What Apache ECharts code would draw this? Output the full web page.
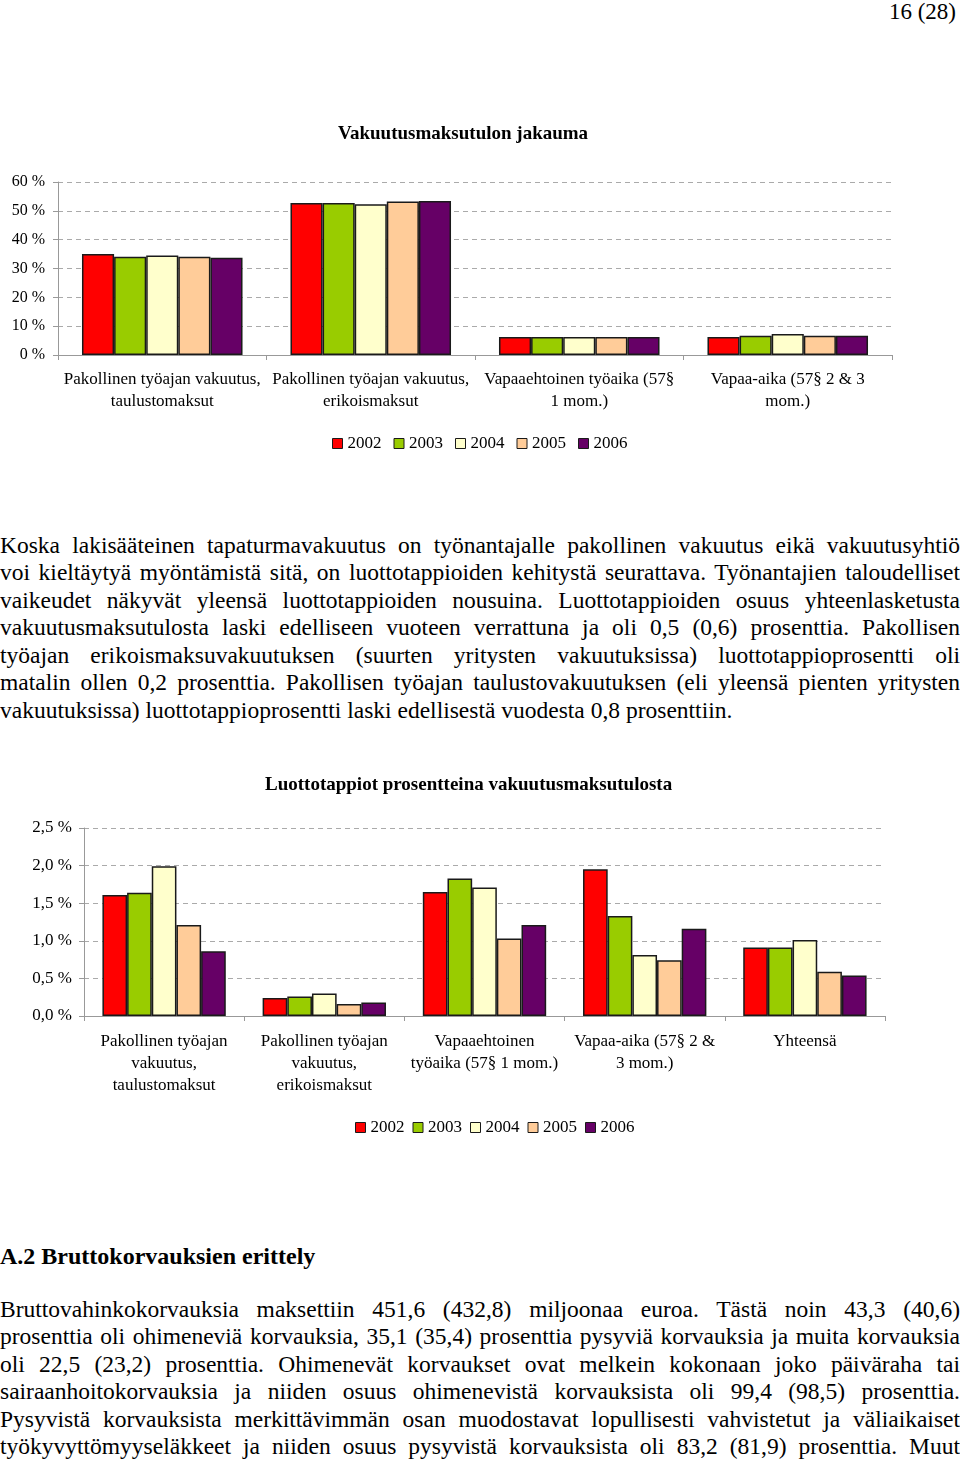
<!DOCTYPE html>
<html>
<head>
<meta charset="utf-8">
<script src="https://cdn.jsdelivr.net/npm/echarts@6/dist/echarts.min.js"></script>
<style>
  html, body { margin: 0; padding: 0; background: #fff; }
  body { width: 960px; height: 1461px; position: relative; overflow: hidden; font-family: 'Liberation Serif', 'Times New Roman', serif; color: #000; }
  .pn { position: absolute; right: 4px; top: -2px; font-size: 23px; line-height: 28px; }
  .para { position: absolute; left: 0; width: 960px; font-size: 23.5px; line-height: 27.45px; }
  .para .j { text-align: justify; text-align-last: justify; white-space: normal; }
  .para .l { text-align: left; }
  .h2 { position: absolute; left: 0; top: 1242px; font-size: 24px; font-weight: bold; line-height: 28px; }
  #c1 { position: absolute; left: 0; top: 100px; width: 960px; height: 360px; }
  #c2 { position: absolute; left: 0; top: 760px; width: 960px; height: 390px; }
</style>
</head>
<body>
<div class="pn">16 (28)</div>
<div id="c1"></div>
<div class="para" style="top:532px">
  <div class="j">Koska lakisääteinen tapaturmavakuutus on työnantajalle pakollinen vakuutus eikä vakuutusyhtiö</div>
  <div class="j">voi kieltäytyä myöntämistä sitä, on luottotappioiden kehitystä seurattava. Työnantajien taloudelliset</div>
  <div class="j">vaikeudet näkyvät yleensä luottotappioiden nousuina. Luottotappioiden osuus yhteenlasketusta</div>
  <div class="j">vakuutusmaksutulosta laski edelliseen vuoteen verrattuna ja oli 0,5 (0,6) prosenttia. Pakollisen</div>
  <div class="j">työajan erikoismaksuvakuutuksen (suurten yritysten vakuutuksissa) luottotappioprosentti oli</div>
  <div class="j">matalin ollen 0,2 prosenttia. Pakollisen työajan taulustovakuutuksen (eli yleensä pienten yritysten</div>
  <div class="l">vakuutuksissa) luottotappioprosentti laski edellisestä vuodesta 0,8 prosenttiin.</div>
</div>
<div id="c2"></div>
<div class="h2">A.2 Bruttokorvauksien erittely</div>
<div class="para" style="top:1296px">
  <div class="j">Bruttovahinkokorvauksia maksettiin 451,6 (432,8) miljoonaa euroa. Tästä noin 43,3 (40,6)</div>
  <div class="j">prosenttia oli ohimeneviä korvauksia, 35,1 (35,4) prosenttia pysyviä korvauksia ja muita korvauksia</div>
  <div class="j">oli 22,5 (23,2) prosenttia. Ohimenevät korvaukset ovat melkein kokonaan joko päiväraha tai</div>
  <div class="j">sairaanhoitokorvauksia ja niiden osuus ohimenevistä korvauksista oli 99,4 (98,5) prosenttia.</div>
  <div class="j">Pysyvistä korvauksista merkittävimmän osan muodostavat lopullisesti vahvistetut ja väliaikaiset</div>
  <div class="j">työkyvyttömyyseläkkeet ja niiden osuus pysyvistä korvauksista oli 83,2 (81,9) prosenttia. Muut</div>
</div>
<script>
// ---- data ----
var years = ['2002', '2003', '2004', '2005', '2006'];
var colors = ['#FF0000', '#99CC00', '#FFFFCC', '#FFCC99', '#660066'];

var chart1Title = 'Vakuutusmaksutulon jakauma';
var chart1Categories = [
  'Pakollinen työajan vakuutus,\ntaulustomaksut',
  'Pakollinen työajan vakuutus,\nerikoismaksut',
  'Vapaaehtoinen työaika (57§\n1 mom.)',
  'Vapaa-aika (57§ 2 & 3\nmom.)'
];
var share2002 = [35.0, 52.7, 6.2, 6.2];
var share2003 = [34.1, 52.7, 6.2, 6.7];
var share2004 = [34.5, 52.3, 6.2, 7.3];
var share2005 = [34.1, 53.2, 6.2, 6.7];
var share2006 = [33.7, 53.4, 6.2, 6.7];
var chart1Ticks = [0, 10, 20, 30, 40, 50, 60];

var chart2Title = 'Luottotappiot prosentteina vakuutusmaksutulosta';
var chart2Categories = [
  'Pakollinen työajan\nvakuutus,\ntaulustomaksut',
  'Pakollinen työajan\nvakuutus,\nerikoismaksut',
  'Vapaaehtoinen\ntyöaika (57§ 1 mom.)',
  'Vapaa-aika (57§ 2 &\n3 mom.)',
  'Yhteensä'
];
var loss2002 = [1.61, 0.24, 1.65, 1.95, 0.91];
var loss2003 = [1.64, 0.26, 1.83, 1.33, 0.91];
var loss2004 = [1.99, 0.30, 1.71, 0.81, 1.01];
var loss2005 = [1.21, 0.16, 1.03, 0.74, 0.59];
var loss2006 = [0.86, 0.18, 1.21, 1.16, 0.54];
var chart2Ticks = [0, 0.5, 1.0, 1.5, 2.0, 2.5];

var FONT = 'Liberation Serif';

function makeSeries(arrs) {
  return arrs.map(function (a, i) {
    return {
      name: years[i], type: 'bar', data: a,
      barGap: '0%', barCategoryGap: '23%',
      itemStyle: { color: colors[i], borderColor: '#1a1a1a', borderWidth: 1.5 },
      emphasis: { disabled: true }
    };
  });
}

function baseOption(o) {
  return {
    animation: false,
    color: colors,
    textStyle: { fontFamily: FONT },
    title: {
      text: o.title, left: o.titleLeft, top: o.titleTop,
      textStyle: { fontFamily: FONT, fontSize: 19, fontWeight: 'bold', color: '#000' }
    },
    legend: {
      data: years, left: o.legendLeft, top: o.legendTop,
      itemWidth: 10, itemHeight: 10, itemGap: o.legendGap, icon: 'rect',
      itemStyle: { borderColor: '#1a1a1a', borderWidth: 1 },
      textStyle: { fontFamily: FONT, fontSize: o.lfs, color: '#000', padding: [0, 0, 0, 0] }
    },
    grid: { left: o.gl, top: o.gt, width: o.gw, height: o.gh },
    xAxis: {
      type: 'category', data: o.cats,
      axisLine: { show: true, lineStyle: { color: '#999', width: 1 } },
      axisTick: { show: true, length: 5, lineStyle: { color: '#999' } },
      axisLabel: { interval: 0, margin: o.xm, fontFamily: FONT, fontSize: o.xfs, lineHeight: 22, color: '#000' }
    },
    yAxis: {
      type: 'value', min: 0, max: o.max, interval: o.int,
      axisLine: { show: true, lineStyle: { color: '#999', width: 1 } },
      axisTick: { show: true, length: 5, lineStyle: { color: '#999' } },
      splitLine: { show: true, lineStyle: { color: '#aaa', type: [5, 4], width: 1 } },
      axisLabel: { margin: o.ym, fontFamily: FONT, fontSize: o.fs, color: '#000', formatter: o.fmt }
    },
    series: o.series
  };
}

var c1 = echarts.init(document.getElementById('c1'));
c1.setOption(baseOption({
  title: chart1Title, titleLeft: 333, titleTop: 20,
  legendLeft: 327, legendTop: 330, legendGap: 12,
  gl: 58, gt: 82, gw: 834, gh: 173, xm: 14, ym: 13, fs: 16, xfs: 17, lfs: 17,
  cats: chart1Categories, max: chart1Ticks[chart1Ticks.length - 1], int: chart1Ticks[1] - chart1Ticks[0],
  fmt: function (v) { return v + ' %'; },
  series: makeSeries([share2002, share2003, share2004, share2005, share2006])
}));

var c2 = echarts.init(document.getElementById('c2'));
c2.setOption(baseOption({
  title: chart2Title, titleLeft: 260, titleTop: 11,
  legendLeft: 350, legendTop: 354, legendGap: 8,
  gl: 84, gt: 68, gw: 801, gh: 188, xm: 15, ym: 12, fs: 17, xfs: 17, lfs: 17,
  cats: chart2Categories, max: chart2Ticks[chart2Ticks.length - 1], int: chart2Ticks[1] - chart2Ticks[0],
  fmt: function (v) { return v.toFixed(1).replace('.', ',') + ' %'; },
  series: makeSeries([loss2002, loss2003, loss2004, loss2005, loss2006])
}));
</script>
</body>
</html>
